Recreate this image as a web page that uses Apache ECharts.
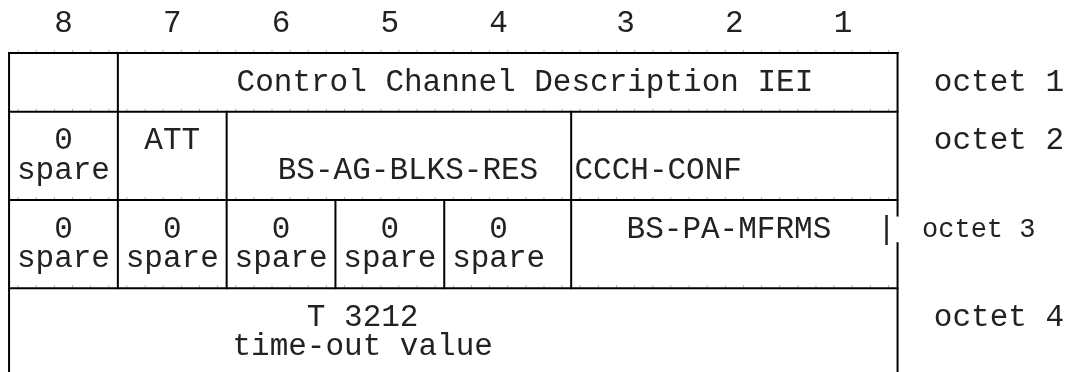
<!DOCTYPE html>
<html>
<head>
<meta charset="utf-8">
<script src="https://cdn.jsdelivr.net/npm/echarts@6/dist/echarts.min.js"></script>
<style>
html,body{margin:0;padding:0;background:#fff;}
#chart{width:1068px;height:372px;}
</style>
</head>
<body>
<div id="chart"></div>
<script>
// Diagram units: x = character column of the text diagram, y = text line.
const bitLabels = ['8', '7', '6', '5', '4', '3', '2', '1'];
const bitCols = [3, 9, 15, 21, 27, 34, 40, 46];
const headerLine = 0;

// horizontal borders: [x0, x1, line]
const hBorders = [[0, 49, 1], [0, 49, 3], [0, 49, 6], [0, 49, 9]];
// vertical borders: [x, line0, line1]
const vBorders = [
  [0, 1, 11.85], [6, 1, 9], [12, 3, 9], [18, 6, 9], [24, 6, 9], [31, 3, 9],
  [49, 1, 6.53], [49, 7.47, 11.85]
];

// field labels: [text, column (centre), line]
const fieldTexts = ['Control Channel Description IEI', '0', 'spare', 'ATT', 'BS-AG-BLKS-RES', 'CCCH-CONF',
  '0', 'spare', '0', 'spare', '0', 'spare', '0', 'spare', '0', 'spare', 'BS-PA-MFRMS', '|',
  'T 3212', 'time-out value'];
const fieldCols = [28.45, 3, 3, 9, 22, 35.8,
  3, 3, 9, 9, 15, 15, 21, 21, 27, 27, 39.7, 48.4,
  19.5, 19.5];
const fieldLines = [2, 4, 5, 4, 5, 5,
  7, 8, 7, 8, 7, 8, 7, 8, 7, 8, 7, 7,
  10, 11];

const octetLabels = ['octet 1', 'octet 2', 'octet 3', 'octet 4'];
const octetLines = [2, 4, 7, 10];
const octetCols = [51, 51, 50.35, 51];
const octetSmall = [false, false, true, false];

const FONT = '"Liberation Mono", "Courier New", monospace';
const INK = '#222';

const lineData = hBorders.map(b => [b[0], b[2], b[1], b[2]])
  .concat(vBorders.map(b => [b[0], b[1], b[0], b[2]]));

const textItems = [];
bitLabels.forEach((t, i) => textItems.push({t, x: bitCols[i], y: headerLine, a: 'center', s: 31}));
fieldTexts.forEach((t, i) => textItems.push({t, x: fieldCols[i], y: fieldLines[i], a: 'center', s: 31}));
octetLabels.forEach((t, i) => textItems.push({t, x: octetCols[i], y: octetLines[i], a: 'left', s: octetSmall[i] ? 27 : 31}));

const chart = echarts.init(document.getElementById('chart'), null, {renderer: 'canvas'});
chart.setOption({
  animation: false,
  backgroundColor: '#fff',
  grid: {left: 0, right: 0, top: 0, bottom: 0},
  xAxis: {type: 'value', min: -0.5, max: 58.4, show: false},
  yAxis: {type: 'value', min: -0.8, max: 11.85, inverse: true, show: false},
  series: [
    {
      type: 'custom',
      clip: false,
      silent: true,
      encode: {x: [0, 2], y: [1, 3]},
      data: lineData,
      renderItem: function (params, api) {
        const x0 = api.value(0), y0 = api.value(1), x1 = api.value(2), y1 = api.value(3);
        const p1 = api.coord([x0, y0]);
        const p2 = api.coord([x1, y1]);
        const children = [];
        if (y0 === y1) {
          // faint character-cell ticks along the dashes of a horizontal border
          for (let c = Math.ceil(x0) + 0.5; c < x1; c += 1) {
            const q = api.coord([c, y0]);
            children.push({
              type: 'line',
              shape: {x1: q[0], y1: q[1] - 3, x2: q[0], y2: q[1] + 1},
              style: {stroke: '#b5b5b5', lineWidth: 1}
            });
          }
        }
        children.push({
          type: 'line',
          shape: {x1: p1[0], y1: p1[1], x2: p2[0], y2: p2[1]},
          style: {stroke: '#000', lineWidth: 2, lineCap: 'square'}
        });
        return {type: 'group', children: children};
      }
    },
    {
      type: 'custom',
      clip: false,
      silent: true,
      encode: {x: 0, y: 1},
      data: textItems.map(d => [d.x, d.y]),
      renderItem: function (params, api) {
        const d = textItems[params.dataIndex];
        const p = api.coord([api.value(0), api.value(1)]);
        return {
          type: 'text',
          x: p[0], y: p[1],
          style: {
            text: d.t,
            fill: INK,
            font: d.s + 'px ' + FONT,
            align: d.a, textAlign: d.a,
            verticalAlign: 'middle', textVerticalAlign: 'middle'
          }
        };
      }
    }
  ]
});
</script>
</body>
</html>
